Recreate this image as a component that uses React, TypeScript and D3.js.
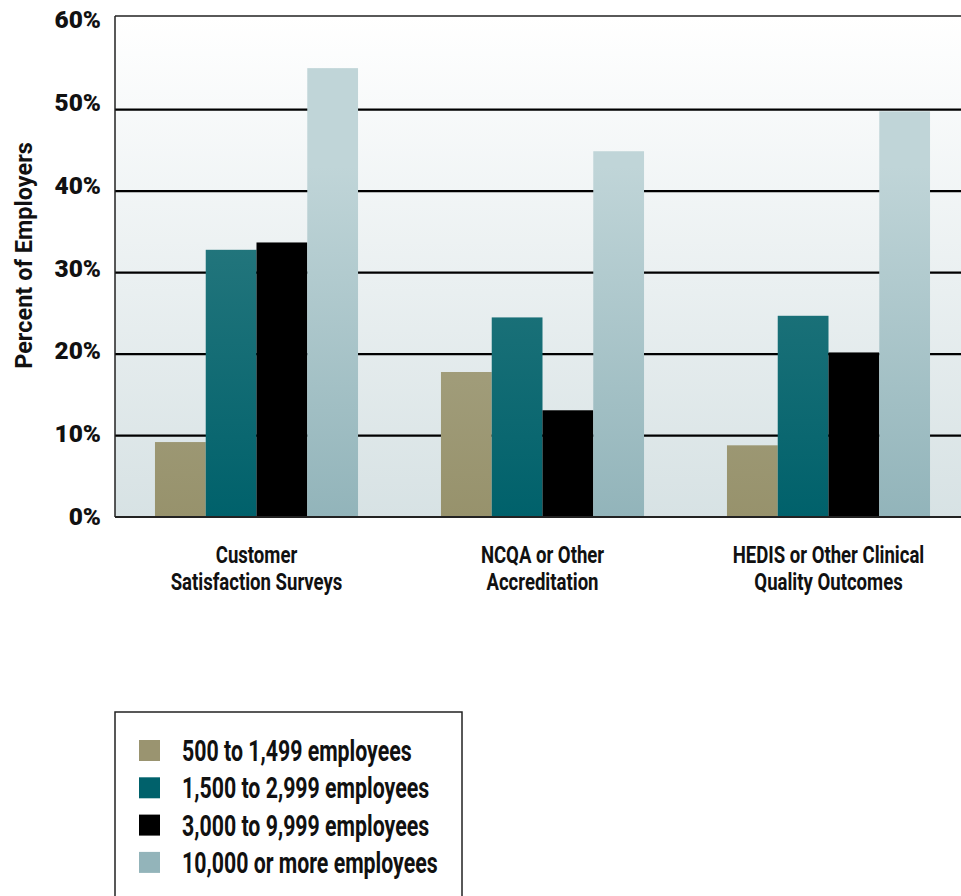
import React from "react";
import * as d3 from "d3";

const categories = [
  ["Customer", "Satisfaction Surveys"],
  ["NCQA or Other", "Accreditation"],
  ["HEDIS or Other Clinical", "Quality Outcomes"],
];
const seriesNames = [
  "500 to 1,499 employees",
  "1,500 to 2,999 employees",
  "3,000 to 9,999 employees",
  "10,000 or more employees",
];
const size500 = [9.2, 17.8, 8.8];
const size1500 = [32.8, 24.5, 24.7];
const size3000 = [33.7, 13.1, 20.2];
const size10000 = [55.1, 44.9, 49.8];
const yTicks = [0, 10, 20, 30, 40, 50, 60];

const seriesValues = [size500, size1500, size3000, size10000];
const gradients = [
  ["#aeab8d", "#97926c"],
  ["#2c7b81", "#00616b"],
  ["#000000", "#000000"],
  ["#c0d5d8", "#92b4ba"],
];
const swatch = ["#9a9470", "#00616b", "#000000", "#93b4ba"];

const ROBOTO = "Roboto, 'Liberation Sans', sans-serif";

export default function App() {
  const W = 961, H = 896;
  const left = 115, right = 961, top = 16, bottom = 517;
  const y = d3.scaleLinear().domain([0, 61.5]).range([bottom, top]);
  const yLabel = d3.scaleLinear().domain([0, 60]).range([525, 28]);
  const x0 = d3
    .scaleBand<number>()
    .domain(categories.map((_, i) => i))
    .range([113.5, 971.5])
    .paddingInner(0.29)
    .paddingOuter(0.145);
  const x1 = d3
    .scaleBand<number>()
    .domain(seriesNames.map((_, i) => i))
    .range([0, x0.bandwidth()]);

  return (
    <svg width={W} height={H} style={{ position: "absolute", left: 0, top: 0 }}>
      <defs>
        <linearGradient id="bg" x1="0" y1="0" x2="0" y2="1">
          <stop offset="0" stopColor="#ffffff" />
          <stop offset="1" stopColor="#d7e2e4" />
        </linearGradient>
        {gradients.map((g, i) => (
          <linearGradient key={i} id={`bar${i}`} x1="0" y1={top} x2="0" y2={bottom} gradientUnits="userSpaceOnUse">
            <stop offset="0" stopColor={g[0]} />
            <stop offset="0.3" stopColor={g[0]} />
            <stop offset="1" stopColor={g[1]} />
          </linearGradient>
        ))}
      </defs>
      <rect x={left} y={top} width={right - left} height={bottom - top} fill="url(#bg)" />
      {yTicks.slice(1, -1).map((t) => (
        <line key={t} x1={left} x2={right} y1={y(t)} y2={y(t)} stroke="#000" strokeWidth={2.2} />
      ))}
      {categories.map((_, ci) => (
        <g key={ci} transform={`translate(${x0(ci)},0)`}>
          {seriesValues.map((vals, si) => (
            <rect
              key={si}
              x={x1(si)}
              y={y(vals[ci])}
              width={x1.bandwidth()}
              height={bottom - y(vals[ci])}
              fill={`url(#bar${si})`}
            />
          ))}
        </g>
      ))}
      <line x1={left} x2={right} y1={top} y2={top} stroke="#222" strokeWidth={1.5} />
      <line x1={left} x2={left} y1={top} y2={bottom} stroke="#222" strokeWidth={1.5} />
      <line x1={left} x2={right} y1={bottom} y2={bottom} stroke="#222" strokeWidth={1.8} />
      {yTicks.map((t) => (
        <text key={t} transform={`translate(101,${yLabel(t)}) scale(1.04,1)`} textAnchor="end"
          fontFamily={ROBOTO} fontWeight="900" fontSize={23.5} fill="#111">
          {t}%
        </text>
      ))}
      <text transform={`translate(32,255.5) rotate(-90)`} textAnchor="middle"
        fontFamily={ROBOTO} fontWeight="bold" fontSize={23.5} fill="#111">
        Percent of Employers
      </text>
      {categories.map((lines, ci) => (
        <text key={ci}
          transform={`translate(${(x0(ci) as number) + x0.bandwidth() / 2},563) scale(0.79,1)`}
          textAnchor="middle" fontFamily={ROBOTO} fontWeight="bold" fontSize={23.5} fill="#111">
          {lines.map((l, li) => (
            <tspan key={li} x={0} y={li * 27}>
              {l}
            </tspan>
          ))}
        </text>
      ))}
      <rect x={115} y={712} width={347} height={200} fill="none" stroke="#222" strokeWidth={1.5} />
      {seriesNames.map((n, i) => (
        <g key={i} transform={`translate(0,${740 + i * 37.3})`}>
          <rect x={139} y={0} width={21} height={21} fill={swatch[i]} />
          <text transform="translate(182,21) scale(0.735,1)" fontFamily={ROBOTO} fontWeight="bold"
            fontSize={29} fill="#111">
            {n}
          </text>
        </g>
      ))}
    </svg>
  );
}
